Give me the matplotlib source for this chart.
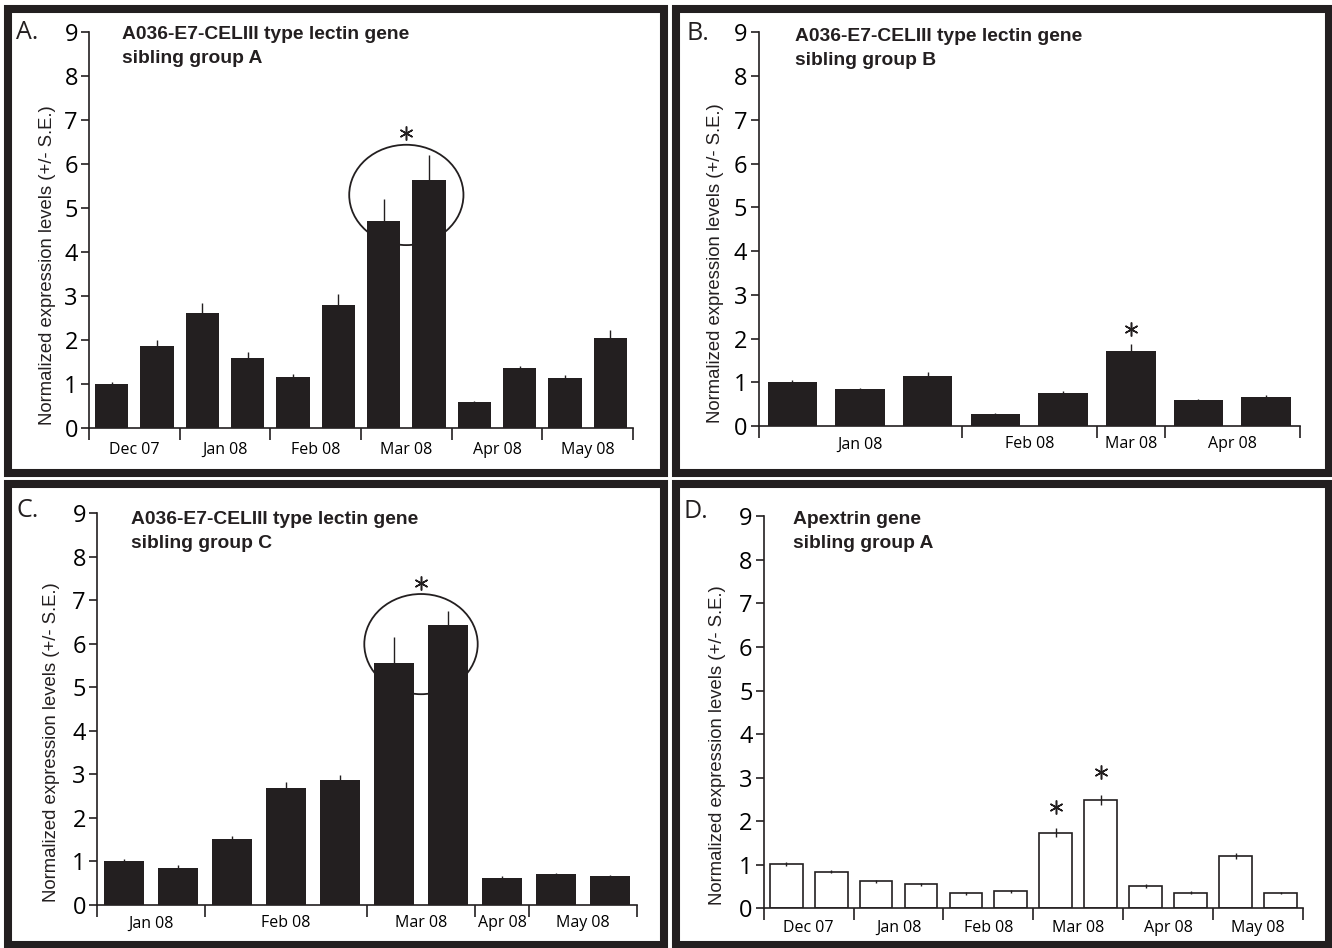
import matplotlib
matplotlib.use('Agg')
import matplotlib.pyplot as plt
from matplotlib.patches import Rectangle, Ellipse

W, H = 1332, 948
BAR_COLOR = '#231f20'

# ---- data ----
months_a = ['Dec 07', 'Jan 08', 'Feb 08', 'Mar 08', 'Apr 08', 'May 08']
counts_a = [2, 2, 2, 2, 2, 2]
vals_a = [1.00, 1.86, 2.61, 1.58, 1.15, 2.80, 4.70, 5.64, 0.58, 1.35, 1.14, 2.04]
err_a = [0.04, 0.13, 0.22, 0.15, 0.07, 0.23, 0.50, 0.56, 0.03, 0.06, 0.06, 0.19]

months_b = ['Jan 08', 'Feb 08', 'Mar 08', 'Apr 08']
counts_b = [3, 2, 1, 2]
vals_b = [1.01, 0.85, 1.15, 0.28, 0.75, 1.71, 0.59, 0.67]
err_b = [0.04, 0.03, 0.09, 0.02, 0.04, 0.17, 0.03, 0.03]

months_c = ['Jan 08', 'Feb 08', 'Mar 08', 'Apr 08', 'May 08']
counts_c = [2, 3, 2, 1, 2]
vals_c = [1.01, 0.86, 1.51, 2.69, 2.87, 5.55, 6.43, 0.63, 0.72, 0.66]
err_c = [0.05, 0.05, 0.07, 0.13, 0.12, 0.61, 0.32, 0.03, 0.02, 0.03]

months_d = ['Dec 07', 'Jan 08', 'Feb 08', 'Mar 08', 'Apr 08', 'May 08']
counts_d = [2, 2, 2, 2, 2, 2]
vals_d = [1.01, 0.84, 0.62, 0.55, 0.34, 0.39, 1.74, 2.48, 0.51, 0.36, 1.21, 0.35]
err_d = [0.05, 0.04, 0.03, 0.03, 0.03, 0.03, 0.10, 0.11, 0.04, 0.03, 0.07, 0.03]

# significance stars (bar position, height) and circles (x, y, width, height)
stars_a = [(6.5, 6.7)]
stars_b = [(5, 2.22)]
stars_c = [(5.5, 7.4)]
stars_d = [(6, 2.32), (7, 3.12)]
circle_a = (6.5, 5.29, 2.52, 2.28)
circle_c = (5.5, 5.99, 2.10, 2.30)

titles = ['A036-E7-CELIII type lectin gene\nsibling group A',
          'A036-E7-CELIII type lectin gene\nsibling group B',
          'A036-E7-CELIII type lectin gene\nsibling group C',
          'Apextrin gene\nsibling group A']
letters = ['A.', 'B.', 'C.', 'D.']
ylabel = 'Normalized expression levels (+/- S.E.)'

# ---- layout in pixels ----
# axes: left, top, right, bottom
axes_px = [(89, 31.7, 633, 427.7), (758.6, 32.3, 1300, 426),
           (97, 513, 637, 905), (763.7, 516.3, 1303, 908.3)]
frames_px = [(8, 9, 663.5, 473.5), (676, 9, 1328.5, 473.5),
             (8, 484.5, 663.5, 944.5), (676, 484.5, 1328.5, 944.5)]
title_px = [(122, 26), (795, 28), (131, 511), (793, 511)]
letter_px = [(16, 20), (687, 21), (17, 498), (683, 499)]
ylab_off = [41, 43, 45, 46]
month_pad = [10, 7.5, 7.5, 8.5]


def fx(px):
    return px / W


def fy(py):
    return 1 - py / H


fig = plt.figure(figsize=(W / 100, H / 100), dpi=100)
fig.patch.set_facecolor('white')

for (x0, y0, x1, y1) in frames_px:
    fig.add_artist(Rectangle((fx(x0), fy(y1)), fx(x1) - fx(x0), fy(y0) - fy(y1),
                             transform=fig.transFigure, fill=False,
                             edgecolor=BAR_COLOR, linewidth=5.8))

panels = [(months_a, counts_a, vals_a, err_a, stars_a, circle_a, True),
          (months_b, counts_b, vals_b, err_b, stars_b, None, True),
          (months_c, counts_c, vals_c, err_c, stars_c, circle_c, True),
          (months_d, counts_d, vals_d, err_d, stars_d, None, False)]

for i, (months, counts, vals, errs, stars, circ, filled) in enumerate(panels):
    l, t, r, b = axes_px[i]
    ax = fig.add_axes([fx(l), fy(b), fx(r) - fx(l), fy(t) - fy(b)])
    n = len(vals)
    x = list(range(n))

    if circ is not None:
        ax.add_patch(Ellipse((circ[0], circ[1]), circ[2], circ[3], fill=False,
                             edgecolor=BAR_COLOR, linewidth=1.3, zorder=1))

    if filled:
        ax.bar(x, vals, width=0.73, color=BAR_COLOR, zorder=2)
        ax.errorbar(x, vals, yerr=[[0] * n, errs], fmt='none',
                    ecolor=BAR_COLOR, elinewidth=1.0, capsize=0, zorder=1.5)
    else:
        ax.bar(x, vals, width=0.73, color='white', edgecolor=BAR_COLOR,
               linewidth=1.2, zorder=2)
        ax.errorbar(x, vals, yerr=errs, fmt='none', ecolor=BAR_COLOR,
                    elinewidth=1.0, capsize=0, zorder=3)

    for sx, sy in stars:
        ax.plot(sx, sy, marker=(6, 2, 0), markersize=10, color=BAR_COLOR,
                markeredgewidth=1.1, zorder=4)

    ax.set_xlim(-0.5, n - 0.5)
    ax.set_ylim(0, 9)
    for s in ['top', 'right']:
        ax.spines[s].set_visible(False)
    for s in ['left', 'bottom']:
        ax.spines[s].set_linewidth(1.2)
        ax.spines[s].set_color(BAR_COLOR)

    # month boundaries and centred labels
    bounds = [-0.5]
    for c in counts:
        bounds.append(bounds[-1] + c)
    centers = [(bounds[k] + bounds[k + 1]) / 2 for k in range(len(counts))]
    ax.set_xticks(bounds)
    ax.set_xticklabels([])
    ax.set_xticks(centers, minor=True)
    ax.set_xticklabels(months, minor=True, fontsize=11.5, family='Open Sans')
    ax.tick_params(axis='x', which='major', direction='out', length=8.5,
                   width=1.2, color=BAR_COLOR)
    ax.tick_params(axis='x', which='minor', length=0, pad=month_pad[i])

    ax.set_yticks(range(10))
    ax.set_yticklabels([str(v) for v in range(10)], fontsize=17, family='Open Sans')
    ax.tick_params(axis='y', direction='out', length=6, width=1.2,
                   color=BAR_COLOR, pad=2)

    ax.text(-ylab_off[i] / (r - l), 0.008, ylabel, rotation=90, ha='center',
            va='bottom', transform=ax.transAxes, fontsize=13.3,
            family='Liberation Sans', color=BAR_COLOR)

    tx, ty = title_px[i]
    fig.text(fx(tx), fy(ty), titles[i], ha='left', va='top', fontsize=13.9,
             fontweight='bold', family='Liberation Sans', color=BAR_COLOR,
             linespacing=1.55)
    lx, ly = letter_px[i]
    fig.text(fx(lx), fy(ly), letters[i], ha='left', va='top', fontsize=18,
             family='Open Sans', color=BAR_COLOR)

fig.savefig('out.png', dpi=100)
